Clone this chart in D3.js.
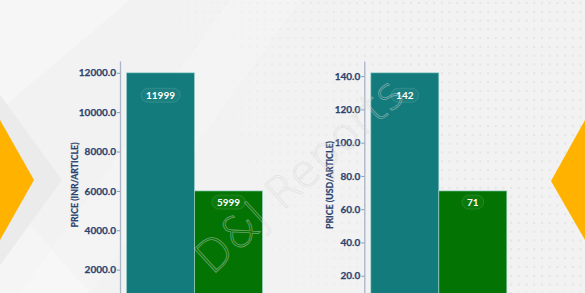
<!DOCTYPE html>
<html>
<head>
<meta charset="utf-8">
<script src="https://cdn.jsdelivr.net/npm/d3@7"></script>
<style>
  html, body { margin: 0; padding: 0; background: #f2f2f2; overflow: hidden; }
  svg { display: block; }
</style>
</head>
<body>
<script>
const W = 585, H = 293;

// chart data
const categories = ["Bar 1", "Bar 2"];
const inrValues = [11999, 5999];
const usdValues = [142, 71];
const inrTicks = [2000, 4000, 6000, 8000, 10000, 12000];
const usdTicks = [20, 40, 60, 80, 100, 120, 140];
const barColors = ["#137b7b", "#037403"];

const svg = d3.select("body").append("svg")
  .attr("width", W).attr("height", H);

const defs = svg.append("defs");

// dotted background pattern, fading in towards the right
const pat = defs.append("pattern")
  .attr("id", "dots").attr("width", 7.7).attr("height", 8.8)
  .attr("patternUnits", "userSpaceOnUse");
pat.append("circle").attr("cx", 3).attr("cy", 3).attr("r", 1.1).attr("fill", "#e2e2e2");

const grad = defs.append("linearGradient").attr("id", "fade")
  .attr("x1", 0).attr("y1", 0.2).attr("x2", 1).attr("y2", 0);
grad.append("stop").attr("offset", "0.25").attr("stop-color", "#fff").attr("stop-opacity", 0);
grad.append("stop").attr("offset", "0.7").attr("stop-color", "#fff").attr("stop-opacity", 1);
const mask = defs.append("mask").attr("id", "dotmask");
mask.append("rect").attr("width", W).attr("height", H).attr("fill", "url(#fade)");

svg.append("rect").attr("width", W).attr("height", H).attr("fill", "#f2f2f2");
svg.append("polygon").attr("points", "0,0 130,0 0,110").attr("fill", "#f6f6f6");
svg.append("polygon").attr("points", "0,190 90,293 0,293").attr("fill", "#f5f5f5");
svg.append("rect").attr("width", W).attr("height", H)
  .attr("fill", "url(#dots)").attr("mask", "url(#dotmask)");
svg.append("polygon").attr("points", "230,0 300,0 90,293 20,293").attr("fill", "#fff").attr("opacity", 0.2);

// side arrows
svg.append("polygon").attr("points", "0,95 62,180 0,265").attr("fill", "#ebebeb");
svg.append("polygon").attr("points", "0,120 34,180 0,240").attr("fill", "#ffb300");
svg.append("polygon").attr("points", "585,120 551,181 585,240").attr("fill", "#ffb300");

const fmt = d3.format(".1f");
const font = "Lato, 'Open Sans', sans-serif";

function drawChart(values, ticks, axisX, titleX, title) {
  const maxV = d3.max(values) * 1.05;
  const y = d3.scaleLinear().domain([0, maxV]).range([309, 61]);
  const x = d3.scaleBand().domain(categories).range([axisX + 6.5, axisX + 142.5]).padding(0);

  const g = svg.append("g");

  g.selectAll("rect.bar").data(values).join("rect")
    .attr("class", "bar")
    .attr("x", (d, i) => x(categories[i]))
    .attr("width", x.bandwidth())
    .attr("y", d => y(d))
    .attr("height", d => y(0) - y(d))
    .attr("fill", (d, i) => barColors[i])
    .attr("stroke", "#9fd3cf").attr("stroke-width", 0.8).attr("stroke-opacity", 0.8);

  // y axis
  const axis = g.append("g").attr("transform", `translate(${axisX},0)`)
    .call(d3.axisLeft(y).tickValues(ticks).tickFormat(fmt).tickSize(3).tickSizeOuter(0));
  axis.select(".domain").attr("stroke", "#aab6c8").attr("stroke-width", 1.3);
  axis.selectAll(".tick line").attr("stroke", "#8a98b0");
  axis.selectAll(".tick text")
    .attr("fill", "#2c4470").attr("x", -4)
    .attr("stroke", "#2c4470").attr("stroke-width", 0.25)
    .style("font-family", font)
    .style("font-weight", "bold").style("font-size", "10px");

  g.append("text")
    .attr("transform", `translate(${titleX},185) rotate(-90)`)
    .attr("text-anchor", "middle").attr("dy", "0.35em")
    .attr("fill", "#2c4470")
    .attr("stroke", "#2c4470").attr("stroke-width", 0.2)
    .style("font-family", font)
    .style("font-weight", "bold").style("font-size", "8.8px")
    .text(title);

  // value pills
  const lab = g.selectAll("g.lab").data(values).join("g")
    .attr("class", "lab")
    .attr("transform", (d, i) => `translate(${x(categories[i]) + x.bandwidth() / 2},${y(d * 0.905)})`);
  lab.append("text")
    .attr("text-anchor", "middle").attr("dy", "0.35em")
    .attr("fill", "#ffffff")
    .style("font-family", font)
    .style("font-weight", "bold").style("font-size", "10px")
    .text(d => d);
  lab.each(function () {
    const b = d3.select(this).select("text").node().getBBox();
    d3.select(this).insert("rect", "text")
      .attr("x", b.x - 5).attr("y", -7).attr("width", b.width + 10).attr("height", 14)
      .attr("rx", 7)
      .attr("fill", "#ffffff").attr("fill-opacity", 0.04)
      .attr("stroke", "#ffffff").attr("stroke-opacity", 0.15).attr("stroke-width", 0.8);
  });
}

drawChart(inrValues, inrTicks, 120, 75, "PRICE (INR/ARTICLE)");
drawChart(usdValues, usdTicks, 364.3, 330, "PRICE (USD/ARTICLE)");

// watermark
svg.append("text")
  .attr("transform", "translate(212,276) rotate(-42.5)")
  .attr("fill", "none").attr("stroke", "#d4d4d4").attr("stroke-opacity", 0.5)
  .attr("stroke-width", 0.8)
  .style("font-family", "'DejaVu Sans', sans-serif")
  .style("font-size", "44px").style("font-weight", "200")
  .text("D&J Reports");
</script>
</body>
</html>
